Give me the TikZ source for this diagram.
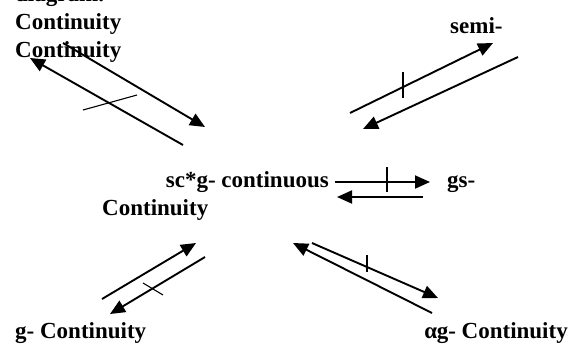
\documentclass[tikz,border=0pt]{standalone}
\usepackage{fontspec}
\setmainfont{Liberation Serif}
\usepackage{tikz}
\usetikzlibrary{arrows.meta, positioning, calc}

\begin{document}
\begin{tikzpicture}[x=1pt, y=-1pt, font=\bfseries\fontsize{23}{27}\selectfont,
  lbl/.style={anchor=base west, inner sep=0pt},
  arr/.style={line width=1.9pt, -{Triangle[length=15pt, width=13pt]}},
  tick/.style={line width=1.1pt}]
  \useasboundingbox (0,0) rectangle (569,351);
  % labels
  \node[lbl] (dg) at (15,1.5) {diagram.};
  \node[lbl] (c1) at (15,29) {Continuity};
  \node[lbl] (c2) at (15,57) {Continuity};
  \node[lbl] (semi) at (450,33) {semi-};
  \node[lbl, anchor=base east] (scg) at (329,187) {sc*g- continuous};
  \node[lbl] (gs) at (447,187) {gs-};
  \node[lbl] (c3) at (102,215) {Continuity};
  \node[lbl] (gc) at (15,338) {g- Continuity};
  \node[lbl, anchor=base east] (ag) at (568,338) {α\kern-0.5ptg- Continuity};
  % arrow ends
  \coordinate (tlA) at (63,43);   \coordinate (tlB) at (205,127);
  \coordinate (tlC) at (183,145); \coordinate (tlD) at (30,58);
  \coordinate (trA) at (350,113); \coordinate (trB) at (493,43);
  \coordinate (trC) at (518,57);  \coordinate (trD) at (363,129);
  \coordinate (mA) at (335,182);  \coordinate (mB) at (430,182);
  \coordinate (mC) at (423,197);  \coordinate (mD) at (337,197);
  \coordinate (blA) at (102,299); \coordinate (blB) at (196,243);
  \coordinate (blC) at (205,257); \coordinate (blD) at (110,314);
  \coordinate (brA) at (432,313); \coordinate (brB) at (293,243);
  \coordinate (brC) at (312,243); \coordinate (brD) at (438,298);
  % arrows
  \draw[arr] (tlA) -- (tlB);
  \draw[arr] (tlC) -- (tlD);
  \draw[tick] (83,110) -- (137,95);
  \draw[arr] (trA) -- (trB);
  \draw[arr] (trC) -- (trD);
  \draw[tick] (403,72) -- (403,98);
  \draw[arr] (mA) -- (mB);
  \draw[arr] (mC) -- (mD);
  \draw[tick] (387,167) -- (387,192);
  \draw[arr] (blA) -- (blB);
  \draw[arr] (blC) -- (blD);
  \draw[tick] (143,283) -- (163,295);
  \draw[arr] (brA) -- (brB);
  \draw[arr] (brC) -- (brD);
  \draw[tick] (367,255) -- (367,272);
\end{tikzpicture}
\end{document}
